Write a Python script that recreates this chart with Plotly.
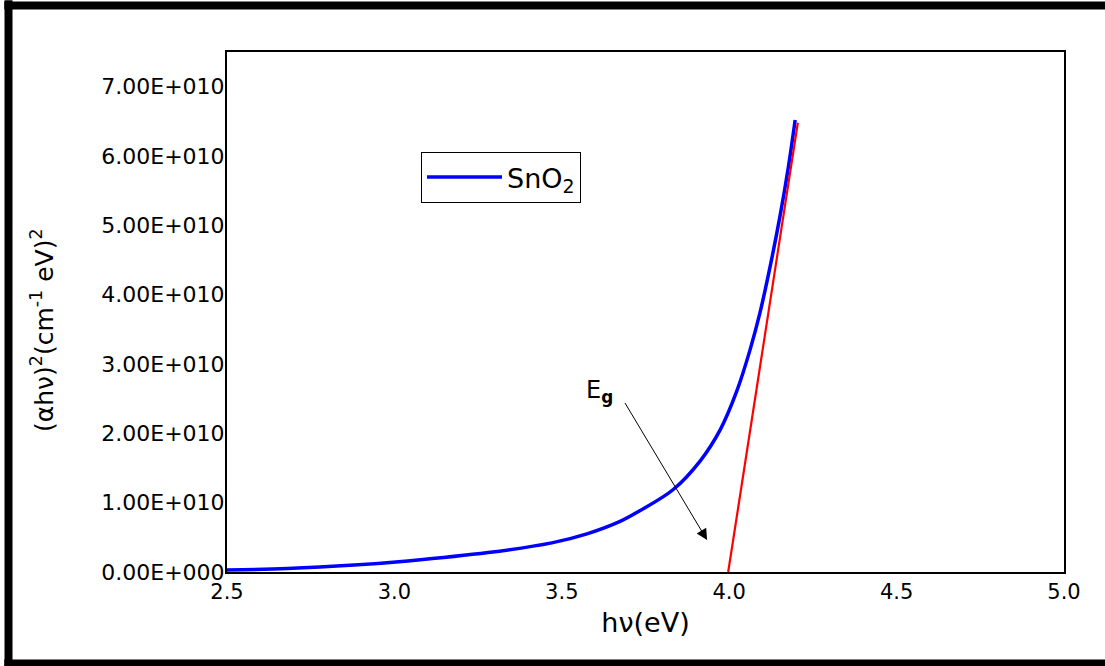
import plotly.graph_objects as go

# ---- data ----
hv = [2.50, 2.68, 2.88, 3.04, 3.28, 3.47, 3.575, 3.674, 3.728, 3.833,
      3.913, 3.973, 4.022, 4.062, 4.092, 4.122, 4.152, 4.177, 4.197]
ahv2 = [0.03e10, 0.05e10, 0.10e10, 0.16e10, 0.28e10, 0.42e10, 0.55e10, 0.73e10,
        0.87e10, 1.19e10, 1.60e10, 2.05e10, 2.60e10, 3.20e10, 3.74e10, 4.40e10,
        5.14e10, 5.85e10, 6.52e10]
fit_x = [3.997, 4.205]
fit_y = [0.0, 6.48e10]

y_tickvals = [0, 1e10, 2e10, 3e10, 4e10, 5e10, 6e10, 7e10]
y_ticktext = ["0.00E+000", "1.00E+010", "2.00E+010", "3.00E+010",
              "4.00E+010", "5.00E+010", "6.00E+010", "7.00E+010"]
x_tickvals = [2.5, 3.0, 3.5, 4.0, 4.5, 5.0]
x_ticktext = ["2.5", "3.0", "3.5", "4.0", "4.5", "5.0"]

arrow_tail = (3.686, 2.46e10)
arrow_tip = (3.934, 0.46e10)
eg_pos = (3.614, 2.60e10)

FONT = "DejaVu Sans"

fig = go.Figure()
fig.add_trace(go.Scatter(x=hv, y=ahv2, mode="lines", name="SnO<sub>2</sub>",
                         line=dict(color="#0000FF", width=3.5, shape="spline", smoothing=1.0)))
fig.add_trace(go.Scatter(x=fit_x, y=fit_y, mode="lines", showlegend=False,
                         line=dict(color="#FF0000", width=2.2)))

# arrow pointing to Eg
fig.add_annotation(x=arrow_tip[0], y=arrow_tip[1], ax=arrow_tail[0], ay=arrow_tail[1],
                   xref="x", yref="y", axref="x", ayref="y", text="",
                   showarrow=True, arrowhead=2, arrowsize=2.2, arrowwidth=1,
                   arrowcolor="black")
fig.add_annotation(x=eg_pos[0], y=eg_pos[1], xref="x", yref="y",
                   text="E<sub><b>g</b></sub>", showarrow=False,
                   font=dict(family=FONT, size=24, color="black"))

# y-axis title
fig.add_annotation(x=(42 - 227) / 837, y=(572 - 330) / 520, xref="paper", yref="paper",
                   xanchor="center", yanchor="middle",
                   text="(\u03b1h\u03bd)<sup>2</sup>(cm<sup>-1</sup> eV)<sup>2</sup>",
                   textangle=-90, showarrow=False,
                   font=dict(family=FONT, size=25, color="black"))

# outer frame (left, top, bottom edges; right edge lies outside the picture)
fx0, fx1 = (8.5 - 227) / 837, (1112 - 227) / 837
fy0, fy1 = (572 - 663.5) / 520, (572 - 5.5) / 520
frame = dict(color="black", width=8)
fig.add_shape(type="line", xref="paper", yref="paper", x0=fx0, x1=fx0, y0=fy0 - 0.01, y1=fy1 + 0.01, line=frame)
fig.add_shape(type="line", xref="paper", yref="paper", x0=fx0 - 0.005, x1=fx1, y0=fy1, y1=fy1, line=frame)
fig.add_shape(type="line", xref="paper", yref="paper", x0=fx0 - 0.005, x1=fx1, y0=fy0, y1=fy0, line=frame)

fig.update_layout(
    width=1105, height=666,
    margin=dict(l=227, r=41, t=52, b=94),
    paper_bgcolor="white", plot_bgcolor="white",
    font=dict(family=FONT, color="black"),
    showlegend=True,
    legend=dict(x=(421 - 227) / 837, y=(572 - 152) / 520, xanchor="left", yanchor="top",
                bordercolor="black", borderwidth=1, bgcolor="white",
                font=dict(family=FONT, size=27, color="black"),
                itemwidth=75),
    xaxis=dict(range=[2.5, 5.0], tickvals=x_tickvals, ticktext=x_ticktext,
               showgrid=False, zeroline=False, showline=True, linecolor="black",
               linewidth=2, mirror=True, ticks="", ticklabelstandoff=0,
               tickfont=dict(family=FONT, size=21, color="black"),
               title=dict(text="h\u03bd(eV)", font=dict(family=FONT, size=27, color="black"),
                          standoff=10)),
    yaxis=dict(range=[0, 7.5e10], tickvals=y_tickvals, ticktext=y_ticktext,
               showgrid=False, zeroline=False, showline=True, linecolor="black",
               linewidth=2, mirror=True, ticks="", ticklabelstandoff=-4,
               tickfont=dict(family=FONT, size=22, color="black")),
)

fig.write_html("out.html")
